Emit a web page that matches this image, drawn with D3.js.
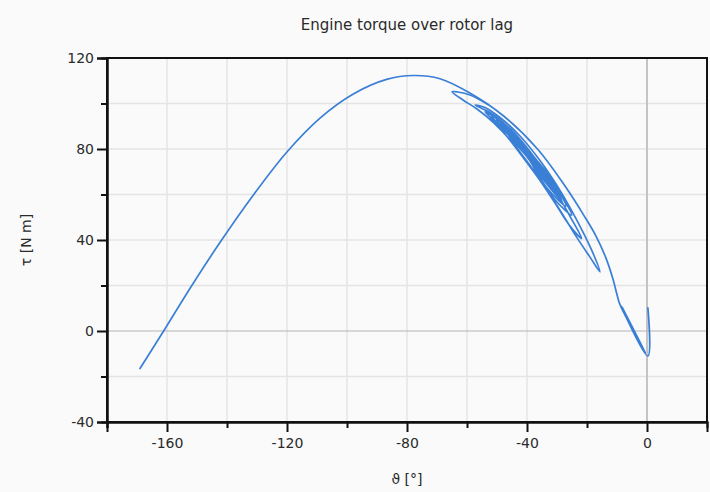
<!DOCTYPE html>
<html><head><meta charset="utf-8">
<script src="https://cdn.jsdelivr.net/npm/d3@7/dist/d3.min.js"></script>
<style>
body{margin:0;background:#fafafa;}
svg{display:block;font-family:"DejaVu Sans",sans-serif;}
</style>
</head><body>
<svg id="chart" width="710" height="492"></svg>
<script>
// ---- chart text ----
const titleText = "Engine torque over rotor lag";
const xLabel = "ϑ [°]";
const yLabel = "τ [N m]";

// ---- ticks ----
const xMajorTicks = [-160, -120, -80, -40, 0];
const xMinorTicks = [-180, -140, -100, -60, -20];
const yMajorTicks = [-40, 0, 40, 80, 120];
const yMinorTicks = [-20, 20, 60, 100];
const xGrid = [-160, -140, -120, -100, -80, -60, -40, -20];
const yGrid = [-20, 20, 40, 60, 80, 100];
const xDomain = [-180, 20];
const yDomain = [-40, 120];

// ---- trace 1: step at zero lag, settling wiggle, outer swing over the peak ----
const swingTheta = [0.3, 0.3, -8.7, -0.6, -8.3, -1.4, -9.0, -10.0, -11.23, -13.67, -17.0, -21.0, -27.33, -36.5, -48.0, -59.33, -69.0, -77.9, -86.8, -97.9, -109.0, -120.1, -131.2, -142.3, -152.3, -160.7, -169.0];
const swingTau   = [10.2, -11.0, 11.0, -9.5, 10.5, -7.3, 11.6, 16.0, 22.35, 32.03, 41.71, 50.73, 63.70, 79.98, 94.72, 104.84, 110.9, 112.3, 110.6, 104.2, 93.6, 78.6, 59.8, 39.0, 18.8, 0.9, -16.5];

// ---- trace 2: rotor oscillation loops ----
const loopTheta = [
  -53.00, -59.00, -63.00, -65.00,
  -61.33, -56.67, -51.00, -45.00, -39.33, -34.00, -29.00, -23.67, -19.00, -15.67,
  -18.00, -21.33, -25.67, -30.33, -35.67, -42.33, -49.00, -54.00, -57.33,
  -52.33, -46.33, -40.33, -34.67, -29.67, -25.33, -21.77,
  -25.67, -30.67, -36.00, -41.67, -47.33, -52.33, -54.00,
  -49.40, -44.00, -39.33, -36.00, -30.77, -25.10, -28.87, -33.63, -39.33, -45.00, -50.17, -52.33,
  -47.67, -43.00, -39.20, -33.20, -27.07, -30.17, -36.10, -43.00, -47.70, -50.33,
  -45.20, -39.17, -33.93, -29.83, -34.50, -40.17, -46.13, -47.33,
  -40.93, -35.53, -31.70, -36.10, -41.73, -45.67,
  -40.00, -34.00, -38.33, -43.00,
  -49.67, -44.00, -37.33, -32.00, -28.33, -33.67, -39.00, -45.33,
  -49.00, -43.00, -37.00, -31.33, -38.00, -44.33,
  -47.00, -41.67, -33.67, -40.00, -45.00
];
const loopTau = [
  99.56, 103.74, 105.06, 105.19,
  101.54, 97.58, 91.42, 83.06, 73.38, 63.27, 53.15, 41.71, 32.47, 26.00,
  34.23, 43.47, 54.25, 64.58, 74.92, 85.70, 93.84, 98.24, 99.34,
  96.04, 89.66, 80.86, 70.30, 59.75, 49.63, 40.70,
  46.11, 56.23, 66.79, 76.90, 86.58, 94.06, 96.39,
  92.70, 85.70, 76.82, 67.93, 57.81, 50.95, 60.36, 69.60, 76.82, 84.60, 91.69, 95.60,
  90.41, 82.80, 75.10, 62.65, 54.91, 63.00, 74.00, 82.80, 88.34, 93.62,
  87.20, 78.00, 68.63, 59.30, 66.70, 76.86, 85.97, 89.93,
  80.86, 71.14, 62.82, 69.86, 79.98, 87.02,
  78.66, 67.23, 75.14, 82.62,
  93.18, 86.80, 76.02, 65.90, 57.10, 65.03, 75.14, 85.26,
  91.86, 84.38, 73.38, 61.95, 74.26, 84.38,
  89.22, 81.30, 66.34, 77.78, 85.70
];

// ---- layout ----
const svg = d3.select("#chart");
const W = 710, H = 492;
const m = {left: 107, right: 3, top: 58, bottom: 70};
const x = d3.scaleLinear().domain(xDomain).range([m.left, W - m.right]);
const y = d3.scaleLinear().domain(yDomain).range([H - m.bottom, m.top]);

svg.append("rect").attr("width", W).attr("height", H).attr("fill", "#fafafa");

const g = svg.append("g");
// grid
g.selectAll(".gx").data(xGrid).join("line")
  .attr("x1", d => x(d)).attr("x2", d => x(d))
  .attr("y1", y(yDomain[0])).attr("y2", y(yDomain[1]))
  .attr("stroke", "#e4e4e4").attr("stroke-width", 1.5);
g.selectAll(".gy").data(yGrid).join("line")
  .attr("y1", d => y(d)).attr("y2", d => y(d))
  .attr("x1", x(xDomain[0])).attr("x2", x(xDomain[1]))
  .attr("stroke", "#e4e4e4").attr("stroke-width", 1.5);
// zero lines
g.append("line").attr("x1", x(0)).attr("x2", x(0))
  .attr("y1", y(yDomain[0])).attr("y2", y(yDomain[1]))
  .attr("stroke", "#c4c4c4").attr("stroke-width", 2);
g.append("line").attr("y1", y(0)).attr("y2", y(0))
  .attr("x1", x(xDomain[0])).attr("x2", x(xDomain[1]))
  .attr("stroke", "#b4b4b4").attr("stroke-width", 1);

// data lines
const line = d3.line().x(d => x(d[0])).y(d => y(d[1])).curve(d3.curveCatmullRom.alpha(0.5));
const swing = swingTheta.map((t, i) => [t, swingTau[i]]);
const loops = loopTheta.map((t, i) => [t, loopTau[i]]);
[swing, loops].forEach(pts => {
  g.append("path").datum(pts).attr("d", line)
    .attr("fill", "none").attr("stroke", "#3a7fd6").attr("stroke-width", 1.7)
    .attr("stroke-linejoin", "round").attr("stroke-linecap", "round");
});

// frame
g.append("rect").attr("x", x(xDomain[0])).attr("y", y(yDomain[1]))
  .attr("width", x(xDomain[1]) - x(xDomain[0])).attr("height", y(yDomain[0]) - y(yDomain[1]))
  .attr("fill", "none").attr("stroke", "#111").attr("stroke-width", 2);

// axes
const fmt = d => String(d);
const xAxis = svg.append("g").attr("transform", `translate(0,${y(yDomain[0])})`)
  .call(d3.axisBottom(x).tickValues(xMajorTicks).tickSize(10).tickPadding(6).tickFormat(fmt));
const xAxisMinor = svg.append("g").attr("transform", `translate(0,${y(yDomain[0])})`)
  .call(d3.axisBottom(x).tickValues(xMinorTicks).tickSize(6).tickFormat(""));
const yAxis = svg.append("g").attr("transform", `translate(${x(xDomain[0])},0)`)
  .call(d3.axisLeft(y).tickValues(yMajorTicks).tickSize(10).tickPadding(3).tickFormat(fmt));
const yAxisMinor = svg.append("g").attr("transform", `translate(${x(xDomain[0])},0)`)
  .call(d3.axisLeft(y).tickValues(yMinorTicks).tickSize(6).tickFormat(""));
[xAxis, xAxisMinor, yAxis, yAxisMinor].forEach(a => {
  a.select(".domain").attr("stroke", "#111").attr("stroke-width", 2);
  a.selectAll(".tick line").attr("stroke", "#111").attr("stroke-width", 2);
  a.selectAll(".tick text").attr("fill", "#2a2a2a").attr("font-size", 14)
    .attr("font-family", "DejaVu Sans, sans-serif");
});

// titles
svg.append("text").attr("x", (x(xDomain[0]) + x(xDomain[1])) / 2).attr("y", 30)
  .attr("text-anchor", "middle").attr("font-size", 15).attr("fill", "#2a2a2a").text(titleText);
svg.append("text").attr("x", (x(xDomain[0]) + x(xDomain[1])) / 2).attr("y", 484)
  .attr("text-anchor", "middle").attr("font-size", 14).attr("fill", "#2a2a2a").text(xLabel);
svg.append("text").attr("transform", `translate(31,${(y(yDomain[0]) + y(yDomain[1])) / 2}) rotate(-90)`)
  .attr("text-anchor", "middle").attr("font-size", 14).attr("fill", "#2a2a2a").text(yLabel);
</script>
</body></html>
